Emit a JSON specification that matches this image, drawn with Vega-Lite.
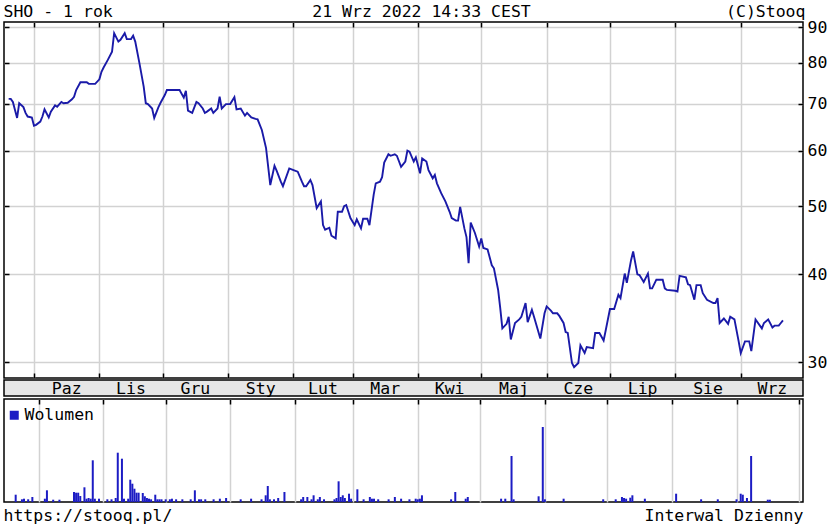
{
  "$schema": "https://vega.github.io/schema/vega-lite/v6.json",
  "background": "white",
  "padding": {"left": 2, "top": 2, "right": 0, "bottom": 0},
  "spacing": -3,
  "config": {
    "view": {"stroke": "#000", "strokeWidth": 1.5},
    "axis": {
      "gridColor": "#d2d2d2", "gridWidth": 1.5, "tickColor": "#000", "tickWidth": 1.5,
      "labelFont": "DejaVu Sans Mono", "labelFontSize": 16.5, "labelColor": "#000",
      "titleFont": "DejaVu Sans Mono", "titleFontSize": 16.5, "titleFontWeight": "normal", "titleColor": "#000"
    },
    "legend": {"labelFont": "DejaVu Sans Mono", "labelFontSize": 16.5, "labelColor": "#000"}
  },
  "resolve": {"scale": {"color": "independent"}},
  "datasets": {
    "price": [
      {"date": "2021-09-19", "close": 71.1}, {"date": "2021-09-20", "close": 71.1}, {"date": "2021-09-21", "close": 70.4},
      {"date": "2021-09-23", "close": 66.8}, {"date": "2021-09-24", "close": 70.1}, {"date": "2021-09-26", "close": 69.2},
      {"date": "2021-09-27", "close": 67.9}, {"date": "2021-09-28", "close": 67.1}, {"date": "2021-09-30", "close": 66.9},
      {"date": "2021-10-01", "close": 65.1}, {"date": "2021-10-02", "close": 65.3}, {"date": "2021-10-04", "close": 66.0},
      {"date": "2021-10-05", "close": 67.1}, {"date": "2021-10-06", "close": 68.7}, {"date": "2021-10-08", "close": 66.9},
      {"date": "2021-10-09", "close": 68.2}, {"date": "2021-10-11", "close": 69.6}, {"date": "2021-10-12", "close": 69.3},
      {"date": "2021-10-14", "close": 70.4}, {"date": "2021-10-15", "close": 70.1}, {"date": "2021-10-17", "close": 70.2},
      {"date": "2021-10-19", "close": 71.0}, {"date": "2021-10-20", "close": 71.6}, {"date": "2021-10-21", "close": 73.2},
      {"date": "2021-10-23", "close": 75.1}, {"date": "2021-10-26", "close": 75.1}, {"date": "2021-10-27", "close": 74.7},
      {"date": "2021-10-30", "close": 74.7}, {"date": "2021-11-01", "close": 75.8}, {"date": "2021-11-02", "close": 77.7},
      {"date": "2021-11-03", "close": 78.8}, {"date": "2021-11-05", "close": 80.8}, {"date": "2021-11-07", "close": 83.0},
      {"date": "2021-11-08", "close": 88.2}, {"date": "2021-11-10", "close": 85.8}, {"date": "2021-11-11", "close": 86.3},
      {"date": "2021-11-13", "close": 88.2}, {"date": "2021-11-14", "close": 86.5}, {"date": "2021-11-16", "close": 86.5},
      {"date": "2021-11-17", "close": 87.5}, {"date": "2021-11-18", "close": 85.8}, {"date": "2021-11-20", "close": 79.9},
      {"date": "2021-11-22", "close": 74.0}, {"date": "2021-11-23", "close": 70.1}, {"date": "2021-11-24", "close": 69.9},
      {"date": "2021-11-26", "close": 68.9}, {"date": "2021-11-27", "close": 66.8}, {"date": "2021-11-29", "close": 69.2},
      {"date": "2021-11-30", "close": 70.2}, {"date": "2021-12-02", "close": 72.0}, {"date": "2021-12-03", "close": 73.2},
      {"date": "2021-12-09", "close": 73.2}, {"date": "2021-12-11", "close": 71.4}, {"date": "2021-12-12", "close": 73.0},
      {"date": "2021-12-13", "close": 68.4}, {"date": "2021-12-15", "close": 67.9}, {"date": "2021-12-17", "close": 70.4},
      {"date": "2021-12-18", "close": 70.1}, {"date": "2021-12-20", "close": 68.9}, {"date": "2021-12-21", "close": 67.9},
      {"date": "2021-12-22", "close": 68.2}, {"date": "2021-12-24", "close": 68.9}, {"date": "2021-12-25", "close": 67.9},
      {"date": "2021-12-27", "close": 68.9}, {"date": "2021-12-28", "close": 71.6}, {"date": "2021-12-29", "close": 68.9},
      {"date": "2021-12-31", "close": 69.9}, {"date": "2022-01-02", "close": 69.9}, {"date": "2022-01-04", "close": 71.5},
      {"date": "2022-01-05", "close": 68.7}, {"date": "2022-01-07", "close": 68.9}, {"date": "2022-01-09", "close": 67.3},
      {"date": "2022-01-10", "close": 67.9}, {"date": "2022-01-12", "close": 66.9}, {"date": "2022-01-14", "close": 66.6},
      {"date": "2022-01-15", "close": 66.5}, {"date": "2022-01-17", "close": 64.2}, {"date": "2022-01-19", "close": 60.5},
      {"date": "2022-01-21", "close": 53.6}, {"date": "2022-01-23", "close": 57.1}, {"date": "2022-01-24", "close": 56.2},
      {"date": "2022-01-26", "close": 54.2}, {"date": "2022-01-27", "close": 53.4}, {"date": "2022-01-30", "close": 56.6},
      {"date": "2022-02-01", "close": 56.3}, {"date": "2022-02-03", "close": 56.0}, {"date": "2022-02-05", "close": 54.2},
      {"date": "2022-02-06", "close": 53.4}, {"date": "2022-02-07", "close": 53.4}, {"date": "2022-02-09", "close": 54.5},
      {"date": "2022-02-10", "close": 53.6}, {"date": "2022-02-12", "close": 49.7}, {"date": "2022-02-14", "close": 50.8},
      {"date": "2022-02-15", "close": 47.0}, {"date": "2022-02-16", "close": 46.3}, {"date": "2022-02-18", "close": 46.6},
      {"date": "2022-02-19", "close": 45.4}, {"date": "2022-02-21", "close": 45.0}, {"date": "2022-02-22", "close": 49.1},
      {"date": "2022-02-24", "close": 49.1}, {"date": "2022-02-25", "close": 50.0}, {"date": "2022-02-26", "close": 50.2},
      {"date": "2022-02-28", "close": 48.1}, {"date": "2022-03-02", "close": 47.0}, {"date": "2022-03-03", "close": 47.9},
      {"date": "2022-03-05", "close": 46.5}, {"date": "2022-03-06", "close": 48.0}, {"date": "2022-03-08", "close": 48.0},
      {"date": "2022-03-09", "close": 47.0}, {"date": "2022-03-11", "close": 51.9}, {"date": "2022-03-12", "close": 53.9},
      {"date": "2022-03-14", "close": 54.2}, {"date": "2022-03-15", "close": 55.0}, {"date": "2022-03-16", "close": 57.7},
      {"date": "2022-03-18", "close": 59.3}, {"date": "2022-03-19", "close": 59.0}, {"date": "2022-03-21", "close": 59.3},
      {"date": "2022-03-22", "close": 59.0}, {"date": "2022-03-24", "close": 56.9}, {"date": "2022-03-26", "close": 57.9},
      {"date": "2022-03-27", "close": 60.0}, {"date": "2022-03-28", "close": 59.8}, {"date": "2022-03-30", "close": 57.9},
      {"date": "2022-03-31", "close": 58.7}, {"date": "2022-04-02", "close": 55.7}, {"date": "2022-04-03", "close": 58.5},
      {"date": "2022-04-05", "close": 57.9}, {"date": "2022-04-06", "close": 56.3}, {"date": "2022-04-08", "close": 54.8},
      {"date": "2022-04-09", "close": 55.4}, {"date": "2022-04-10", "close": 53.9}, {"date": "2022-04-12", "close": 52.2},
      {"date": "2022-04-14", "close": 50.8}, {"date": "2022-04-16", "close": 49.1}, {"date": "2022-04-17", "close": 48.1},
      {"date": "2022-04-19", "close": 47.7}, {"date": "2022-04-20", "close": 47.7}, {"date": "2022-04-21", "close": 49.9},
      {"date": "2022-04-23", "close": 46.5}, {"date": "2022-04-24", "close": 45.2}, {"date": "2022-04-25", "close": 41.5},
      {"date": "2022-04-26", "close": 47.4}, {"date": "2022-04-28", "close": 45.8}, {"date": "2022-04-30", "close": 43.8},
      {"date": "2022-05-01", "close": 45.0}, {"date": "2022-05-02", "close": 43.6}, {"date": "2022-05-04", "close": 43.4},
      {"date": "2022-05-06", "close": 41.2}, {"date": "2022-05-07", "close": 40.8}, {"date": "2022-05-09", "close": 38.0},
      {"date": "2022-05-10", "close": 35.8}, {"date": "2022-05-11", "close": 33.5}, {"date": "2022-05-13", "close": 34.0},
      {"date": "2022-05-14", "close": 34.8}, {"date": "2022-05-15", "close": 32.3}, {"date": "2022-05-17", "close": 34.1},
      {"date": "2022-05-19", "close": 34.5}, {"date": "2022-05-20", "close": 34.8}, {"date": "2022-05-22", "close": 36.4},
      {"date": "2022-05-23", "close": 34.2}, {"date": "2022-05-25", "close": 35.6}, {"date": "2022-05-26", "close": 34.8},
      {"date": "2022-05-29", "close": 32.4}, {"date": "2022-05-31", "close": 35.2}, {"date": "2022-06-01", "close": 36.0},
      {"date": "2022-06-03", "close": 35.5}, {"date": "2022-06-04", "close": 35.2}, {"date": "2022-06-06", "close": 35.2},
      {"date": "2022-06-07", "close": 34.9}, {"date": "2022-06-09", "close": 34.1}, {"date": "2022-06-10", "close": 33.1},
      {"date": "2022-06-11", "close": 33.0}, {"date": "2022-06-13", "close": 29.9}, {"date": "2022-06-14", "close": 29.5},
      {"date": "2022-06-16", "close": 29.9}, {"date": "2022-06-17", "close": 31.7}, {"date": "2022-06-19", "close": 30.9},
      {"date": "2022-06-20", "close": 31.5}, {"date": "2022-06-23", "close": 31.4}, {"date": "2022-06-24", "close": 33.0},
      {"date": "2022-06-26", "close": 33.0}, {"date": "2022-06-28", "close": 32.2}, {"date": "2022-06-29", "close": 33.3},
      {"date": "2022-07-01", "close": 35.7}, {"date": "2022-07-03", "close": 35.7}, {"date": "2022-07-05", "close": 37.4},
      {"date": "2022-07-06", "close": 37.0}, {"date": "2022-07-08", "close": 40.1}, {"date": "2022-07-09", "close": 38.9},
      {"date": "2022-07-11", "close": 41.9}, {"date": "2022-07-12", "close": 43.1}, {"date": "2022-07-14", "close": 40.0},
      {"date": "2022-07-15", "close": 39.9}, {"date": "2022-07-17", "close": 39.0}, {"date": "2022-07-19", "close": 40.1},
      {"date": "2022-07-20", "close": 38.2}, {"date": "2022-07-21", "close": 38.2}, {"date": "2022-07-23", "close": 39.3},
      {"date": "2022-07-26", "close": 39.3}, {"date": "2022-07-27", "close": 38.2}, {"date": "2022-07-28", "close": 38.0},
      {"date": "2022-08-01", "close": 37.9}, {"date": "2022-08-02", "close": 37.8}, {"date": "2022-08-03", "close": 39.8},
      {"date": "2022-08-06", "close": 39.6}, {"date": "2022-08-07", "close": 38.7}, {"date": "2022-08-08", "close": 38.6},
      {"date": "2022-08-10", "close": 36.8}, {"date": "2022-08-11", "close": 38.6}, {"date": "2022-08-13", "close": 38.6},
      {"date": "2022-08-14", "close": 37.6}, {"date": "2022-08-16", "close": 36.8}, {"date": "2022-08-19", "close": 36.4},
      {"date": "2022-08-20", "close": 36.4}, {"date": "2022-08-21", "close": 37.0}, {"date": "2022-08-22", "close": 34.1},
      {"date": "2022-08-24", "close": 34.6}, {"date": "2022-08-26", "close": 34.0}, {"date": "2022-08-27", "close": 34.8},
      {"date": "2022-08-29", "close": 34.5}, {"date": "2022-08-31", "close": 32.1}, {"date": "2022-09-01", "close": 30.9},
      {"date": "2022-09-03", "close": 32.1}, {"date": "2022-09-05", "close": 32.1}, {"date": "2022-09-06", "close": 31.1},
      {"date": "2022-09-08", "close": 34.5}, {"date": "2022-09-11", "close": 33.5}, {"date": "2022-09-12", "close": 34.1},
      {"date": "2022-09-14", "close": 34.5}, {"date": "2022-09-16", "close": 33.6}, {"date": "2022-09-17", "close": 33.8},
      {"date": "2022-09-19", "close": 33.8}, {"date": "2022-09-20", "close": 34.1}, {"date": "2022-09-21", "close": 34.4}
    ],
    "volume": [
      {"date": "2021-09-20", "volume": 7300}, {"date": "2021-09-23", "volume": 2700}, {"date": "2021-09-24", "volume": 3300},
      {"date": "2021-09-26", "volume": 2700}, {"date": "2021-09-28", "volume": 5000}, {"date": "2021-10-04", "volume": 3300},
      {"date": "2021-10-05", "volume": 11700}, {"date": "2021-10-08", "volume": 2300}, {"date": "2021-10-11", "volume": 2300},
      {"date": "2021-10-18", "volume": 10000}, {"date": "2021-10-19", "volume": 9300}, {"date": "2021-10-20", "volume": 9300},
      {"date": "2021-10-21", "volume": 6000}, {"date": "2021-10-23", "volume": 14700}, {"date": "2021-10-24", "volume": 3300},
      {"date": "2021-10-25", "volume": 4000}, {"date": "2021-10-26", "volume": 3300}, {"date": "2021-10-27", "volume": 41700},
      {"date": "2021-10-28", "volume": 3300}, {"date": "2021-10-30", "volume": 3300}, {"date": "2021-11-03", "volume": 2700},
      {"date": "2021-11-05", "volume": 2700}, {"date": "2021-11-07", "volume": 4000}, {"date": "2021-11-08", "volume": 49300},
      {"date": "2021-11-10", "volume": 43300}, {"date": "2021-11-11", "volume": 3300}, {"date": "2021-11-13", "volume": 3300},
      {"date": "2021-11-14", "volume": 22300}, {"date": "2021-11-15", "volume": 18300}, {"date": "2021-11-16", "volume": 13300},
      {"date": "2021-11-17", "volume": 9300}, {"date": "2021-11-18", "volume": 9300}, {"date": "2021-11-20", "volume": 9000},
      {"date": "2021-11-21", "volume": 5700}, {"date": "2021-11-22", "volume": 4000}, {"date": "2021-11-23", "volume": 3300},
      {"date": "2021-11-24", "volume": 2700}, {"date": "2021-11-26", "volume": 7300}, {"date": "2021-11-27", "volume": 2700},
      {"date": "2021-11-28", "volume": 2700}, {"date": "2021-11-29", "volume": 2700}, {"date": "2021-12-01", "volume": 2700},
      {"date": "2021-12-03", "volume": 2700}, {"date": "2021-12-04", "volume": 3300}, {"date": "2021-12-06", "volume": 2700},
      {"date": "2021-12-09", "volume": 2700}, {"date": "2021-12-13", "volume": 2700}, {"date": "2021-12-15", "volume": 11700},
      {"date": "2021-12-17", "volume": 2700}, {"date": "2021-12-18", "volume": 2700}, {"date": "2021-12-20", "volume": 2700},
      {"date": "2021-12-24", "volume": 2700}, {"date": "2021-12-27", "volume": 3300}, {"date": "2021-12-30", "volume": 4000},
      {"date": "2022-01-06", "volume": 2700}, {"date": "2022-01-11", "volume": 3300}, {"date": "2022-01-16", "volume": 2700},
      {"date": "2022-01-18", "volume": 6700}, {"date": "2022-01-19", "volume": 16000}, {"date": "2022-01-20", "volume": 2700},
      {"date": "2022-01-22", "volume": 2700}, {"date": "2022-01-24", "volume": 4000}, {"date": "2022-01-27", "volume": 10000},
      {"date": "2022-02-04", "volume": 2700}, {"date": "2022-02-05", "volume": 5000}, {"date": "2022-02-07", "volume": 5000},
      {"date": "2022-02-09", "volume": 2700}, {"date": "2022-02-10", "volume": 6700}, {"date": "2022-02-12", "volume": 2700},
      {"date": "2022-02-13", "volume": 5000}, {"date": "2022-02-15", "volume": 2700}, {"date": "2022-02-20", "volume": 2700},
      {"date": "2022-02-21", "volume": 4000}, {"date": "2022-02-22", "volume": 20700}, {"date": "2022-02-23", "volume": 5000},
      {"date": "2022-02-24", "volume": 6700}, {"date": "2022-02-25", "volume": 4000}, {"date": "2022-02-27", "volume": 8300},
      {"date": "2022-02-28", "volume": 3300}, {"date": "2022-03-03", "volume": 12700}, {"date": "2022-03-06", "volume": 2700},
      {"date": "2022-03-09", "volume": 5000}, {"date": "2022-03-10", "volume": 3300}, {"date": "2022-03-11", "volume": 3300},
      {"date": "2022-03-13", "volume": 2700}, {"date": "2022-03-18", "volume": 2700}, {"date": "2022-03-21", "volume": 5000},
      {"date": "2022-03-24", "volume": 3300}, {"date": "2022-03-28", "volume": 2700}, {"date": "2022-03-31", "volume": 3300},
      {"date": "2022-04-01", "volume": 2700}, {"date": "2022-04-02", "volume": 3300}, {"date": "2022-04-03", "volume": 6700},
      {"date": "2022-04-17", "volume": 2700}, {"date": "2022-04-19", "volume": 10000}, {"date": "2022-04-24", "volume": 3300},
      {"date": "2022-04-25", "volume": 5000}, {"date": "2022-05-11", "volume": 3300}, {"date": "2022-05-13", "volume": 3300},
      {"date": "2022-05-16", "volume": 46000}, {"date": "2022-05-17", "volume": 2700}, {"date": "2022-05-29", "volume": 5700},
      {"date": "2022-05-31", "volume": 75000}, {"date": "2022-06-01", "volume": 2700}, {"date": "2022-06-10", "volume": 3300},
      {"date": "2022-06-29", "volume": 2700}, {"date": "2022-07-05", "volume": 2700}, {"date": "2022-07-08", "volume": 5000},
      {"date": "2022-07-09", "volume": 4000}, {"date": "2022-07-10", "volume": 3300}, {"date": "2022-07-12", "volume": 4300},
      {"date": "2022-07-13", "volume": 6700}, {"date": "2022-07-19", "volume": 3300}, {"date": "2022-08-03", "volume": 8300},
      {"date": "2022-08-15", "volume": 2700}, {"date": "2022-08-23", "volume": 2700}, {"date": "2022-09-01", "volume": 2700},
      {"date": "2022-09-03", "volume": 8300}, {"date": "2022-09-04", "volume": 7300}, {"date": "2022-09-06", "volume": 4000},
      {"date": "2022-09-08", "volume": 46000}, {"date": "2022-09-16", "volume": 2300}, {"date": "2022-09-17", "volume": 2300}
    ],
    "months": [
      {"month": "2021-10-01", "label": "Paz"}, {"month": "2021-11-01", "label": "Lis"}, {"month": "2021-12-01", "label": "Gru"},
      {"month": "2022-01-01", "label": "Sty"}, {"month": "2022-02-01", "label": "Lut"}, {"month": "2022-03-01", "label": "Mar"},
      {"month": "2022-04-01", "label": "Kwi"}, {"month": "2022-05-01", "label": "Maj"}, {"month": "2022-06-01", "label": "Cze"},
      {"month": "2022-07-01", "label": "Lip"}, {"month": "2022-08-01", "label": "Sie"}, {"month": "2022-09-01", "label": "Wrz"}
    ]
  },
  "vconcat": [
    {
      "width": 799,
      "height": 356,
      "data": {"name": "price"},
      "layer": [
        {
          "mark": {"type": "line", "color": "#1a1aa8", "strokeWidth": 1.9},
          "encoding": {
            "x": {
              "field": "date", "type": "temporal",
              "scale": {"type": "utc", "domain": [{"year": 2021, "month": 9, "date": 16, "hours": 19, "utc": true}, {"year": 2022, "month": 9, "date": 30, "hours": 12, "utc": true}]},
              "axis": {"orient": "bottom", "grid": true, "tickCount": "month", "tickSize": -5, "labels": false, "domain": false, "title": null}
            },
            "y": {
              "field": "close", "type": "quantitative",
              "scale": {"type": "log", "domain": [28.47, 91.49], "nice": false},
              "axis": {"orient": "right", "values": [30, 40, 50, 60, 70, 80, 90], "grid": true, "tickSize": -5, "labelPadding": 9, "labelFlush": false, "domain": false,
                "title": "(C)Stooq", "titleAngle": 0, "titleX": 2, "titleY": -6, "titleAlign": "right", "titleBaseline": "alphabetic"}
            }
          }
        },
        {
          "mark": {"type": "line", "strokeOpacity": 0},
          "encoding": {
            "x": {
              "field": "date", "type": "temporal",
              "axis": {"orient": "top", "grid": false, "tickCount": "month", "tickSize": -5, "labels": false, "domain": false,
                "title": "21 Wrz 2022 14:33 CEST", "titleX": 417, "titleY": -6, "titleAlign": "center", "titleBaseline": "alphabetic"}
            },
            "y": {
              "field": "close", "type": "quantitative",
              "axis": {"orient": "left", "values": [30, 40, 50, 60, 70, 80, 90], "grid": false, "tickSize": -5, "labels": false, "domain": false,
                "title": "SHO - 1 rok", "titleAngle": 0, "titleX": -1, "titleY": -6, "titleAlign": "left", "titleBaseline": "alphabetic"}
            }
          }
        }
      ],
      "resolve": {"axis": {"x": "independent", "y": "independent"}}
    },
    {
      "width": 799,
      "height": 16,
      "view": {"fill": "#e6e6e6"},
      "data": {"name": "months"},
      "mark": {"type": "text", "font": "DejaVu Sans Mono", "fontSize": 16.5, "baseline": "middle", "dy": 1, "color": "#000"},
      "encoding": {
        "x": {
          "field": "month", "type": "temporal", "timeUnit": "utcyearmonth", "bandPosition": 0.5,
          "scale": {"type": "utc", "domain": [{"year": 2021, "month": 9, "date": 16, "hours": 19, "utc": true}, {"year": 2022, "month": 9, "date": 30, "hours": 12, "utc": true}]},
          "axis": null
        },
        "text": {"field": "label"}
      }
    },
    {
      "width": 799,
      "height": 103,
      "data": {"name": "volume"},
      "mark": {"type": "bar", "size": 2},
      "encoding": {
        "x": {
          "field": "date", "type": "temporal",
          "scale": {"type": "utc", "domain": [{"year": 2021, "month": 9, "date": 16, "hours": 19, "utc": true}, {"year": 2022, "month": 9, "date": 30, "hours": 12, "utc": true}]},
          "axis": {"orient": "top", "grid": true, "tickCount": "month", "tickSize": -5, "labels": false, "domain": false,
            "title": "Interwal Dzienny", "titleX": 799, "titleY": 121, "titleAlign": "right", "titleBaseline": "alphabetic"}
        },
        "y": {
          "field": "volume", "type": "quantitative",
          "scale": {"domain": [0, 103000], "nice": false},
          "axis": {"orient": "left", "ticks": false, "labels": false, "domain": false, "grid": false,
            "title": "https://stooq.pl/", "titleAngle": 0, "titleX": -1, "titleY": 121, "titleAlign": "left", "titleBaseline": "alphabetic"}
        },
        "color": {
          "datum": "Wolumen",
          "scale": {"range": ["#1c1cc4"]},
          "legend": {"orient": "none", "legendX": 2, "legendY": 8, "title": null, "symbolType": "square", "symbolSize": 81, "symbolStrokeWidth": 0, "labelOffset": 2, "padding": 0}
        }
      }
    }
  ]
}
